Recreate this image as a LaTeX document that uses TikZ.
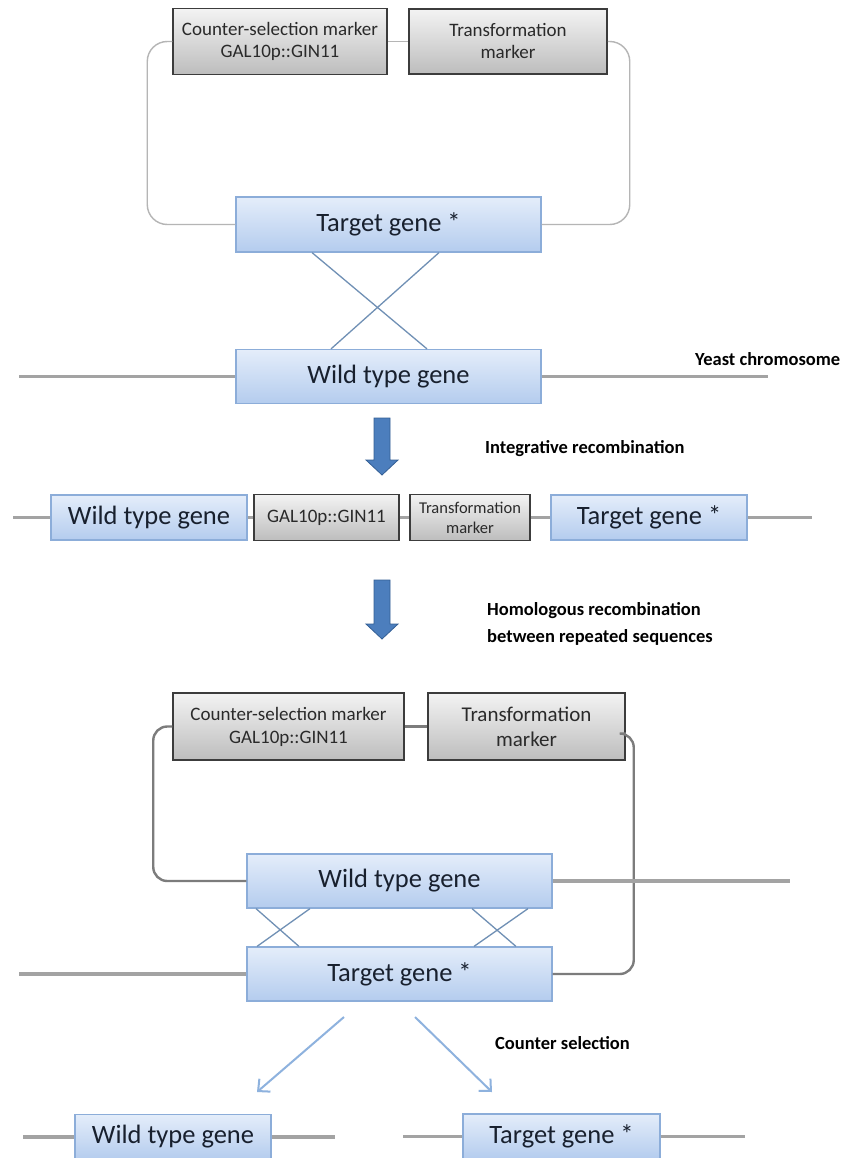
\documentclass[tikz,border=0pt]{standalone}
\usepackage{fontspec}
\setmainfont{Carlito}
\usetikzlibrary{arrows.meta}
\definecolor{genetop}{HTML}{E4EDFA}
\definecolor{genebot}{HTML}{B4CCEE}
\definecolor{geneborder}{HTML}{8CADD9}
\definecolor{genetext}{HTML}{18202E}
\definecolor{marktop}{HTML}{F3F3F3}
\definecolor{markbot}{HTML}{BDBDBD}
\definecolor{markborder}{HTML}{3C3C3C}
\definecolor{marktext}{HTML}{2A2A2A}
\definecolor{chromgray}{HTML}{A3A3A3}
\definecolor{loopgray}{HTML}{B5B5B5}
\definecolor{loopdark}{HTML}{7C7C7C}
\definecolor{xovercol}{HTML}{7090B5}
\definecolor{arrowblue}{HTML}{4C7EBD}
\definecolor{arrowedge}{HTML}{345F95}
\definecolor{selblue}{HTML}{8EB2DE}
\tikzset{
  gene/.style={draw=geneborder, line width=1.2pt, top color=genetop, bottom color=genebot,
    text=genetext, font=\fontsize{26.5}{30}\selectfont, inner sep=0pt},
  marker/.style={draw=markborder, line width=1.5pt, top color=marktop, bottom color=markbot,
    text=marktext, align=center, inner sep=0pt},
  chrom/.style={draw=chromgray, line width=3.5pt},
  loopA/.style={draw=loopgray, line width=1.4pt, rounded corners=20pt},
  loopB/.style={draw=loopdark, line width=2.4pt, rounded corners=14pt},
  xover/.style={draw=xovercol, line width=1.3pt},
  bigarrow/.style={fill=arrowblue, draw=arrowedge, line width=0.8pt},
  selarrow/.style={draw=selblue, line width=2pt, -{Straight Barb[length=9pt,width=17pt]}},
  lbl/.style={font=\bfseries\fontsize{18.5}{27}\selectfont, text=black, inner sep=0pt, anchor=base west},
}
\begin{document}
\begin{tikzpicture}[x=1pt,y=-1pt]
\fill[white] (0,0) rectangle (843,1158);
\useasboundingbox (0,0) rectangle (843,1158);

% ---------- top: plasmid and chromosome ----------
\node[marker, minimum width=214pt, minimum height=66pt, font=\fontsize{19}{21.5}\selectfont] (cs1) at (280,41.5) {Counter-selection marker\\GAL10p::GIN11};
\node[marker, minimum width=198pt, minimum height=65pt, font=\fontsize{19}{22}\selectfont] (tm1) at (508,41.5) {Transformation\\marker};
\node[gene, minimum width=305pt, minimum height=55pt] (tg1) at (388.5,224.5) {Target gene *};
\node[gene, minimum width=305pt, minimum height=54pt] (wt1) at (388.5,376.5) {Wild type gene};

\draw[loopA] (cs1.west) -- ++(-25,0) |- (tg1.west);
\draw[loopA] (tm1.east) -- ++(22,0) |- (tg1.east);
\draw[loopA, rounded corners=0pt] (cs1.east) -- (tm1.west);

\draw[xover] ([xshift=-76.5pt]tg1.south) -- ([xshift=38.5pt]wt1.north);
\draw[xover] ([xshift=50.5pt]tg1.south) -- ([xshift=-57.5pt]wt1.north);

\coordinate (c1L) at (19,376.5);
\coordinate (c1R) at (768,376.5);
\draw[chrom] (c1L) -- (wt1.west);
\draw[chrom] (wt1.east) -- (c1R);
\node[lbl] (yeast) at (695,365) {Yeast chromosome};

% arrow 1
\coordinate (a1s) at (382,418);
\coordinate (a1e) at (382,475);
\filldraw[bigarrow] ([xshift=-8pt]a1s) -- ([xshift=8pt]a1s) -- ([xshift=8pt,yshift=15pt]a1e)
  -- ([xshift=16pt,yshift=15pt]a1e) -- (a1e) -- ([xshift=-16pt,yshift=15pt]a1e)
  -- ([xshift=-8pt,yshift=15pt]a1e) -- cycle;
\node[lbl] (integ) at (485,453) {Integrative recombination};

% ---------- middle row ----------
\node[gene, minimum width=196pt, minimum height=45pt] (wt2) at (149,517.5) {Wild type gene};
\node[marker, minimum width=145pt, minimum height=46pt, font=\fontsize{19}{21}\selectfont] (gal2) at (326.5,517.5) {GAL10p::GIN11};
\node[marker, minimum width=120pt, minimum height=46pt, font=\fontsize{16.5}{20}\selectfont] (tm2) at (470,517.5) {Transformation\\marker};
\node[gene, minimum width=196pt, minimum height=45pt] (tg2) at (649,517.5) {Target gene *};
\coordinate (c2L) at (13,517.5);
\coordinate (c2R) at (812,517.5);
\draw[chrom] (c2L) -- (wt2.west);
\draw[chrom] (wt2.east) -- (gal2.west);
\draw[chrom] (gal2.east) -- (tm2.west);
\draw[chrom] (tm2.east) -- (tg2.west);
\draw[chrom] (tg2.east) -- (c2R);

% arrow 2
\coordinate (a2s) at (382,580);
\coordinate (a2e) at (382,639);
\filldraw[bigarrow] ([xshift=-8pt]a2s) -- ([xshift=8pt]a2s) -- ([xshift=8pt,yshift=15pt]a2e)
  -- ([xshift=16pt,yshift=15pt]a2e) -- (a2e) -- ([xshift=-16pt,yshift=15pt]a2e)
  -- ([xshift=-8pt,yshift=15pt]a2e) -- cycle;
\node[lbl] (hom1) at (487,615) {Homologous recombination};
\node[lbl] (hom2) at (487,642) {between repeated sequences};

% ---------- bottom: excision ----------
\node[marker, minimum width=231pt, minimum height=67pt, font=\fontsize{19}{23}\selectfont] (cs3) at (288.5,726.5) {Counter-selection marker\\GAL10p::GIN11};
\node[marker, minimum width=197pt, minimum height=67pt, font=\fontsize{21}{25}\selectfont] (tm3) at (526.5,726.5) {Transformation\\marker};
\node[gene, minimum width=305pt, minimum height=54pt] (wt3) at (399.5,881) {Wild type gene};
\node[gene, minimum width=305pt, minimum height=54pt] (tg3) at (399.5,974) {Target gene *};

\draw[loopB] (cs3.west) -- ++(-19,0) |- (wt3.west);
\draw[loopB] ([yshift=-7pt]tm3.east) -- ++(8,0) |- (tg3.east);
\draw[loopB, rounded corners=0pt] (cs3.east) -- (tm3.west);

\coordinate (c3R) at (790,881);
\coordinate (c4L) at (19,974);
\draw[chrom] (wt3.east) -- (c3R);
\draw[chrom] (c4L) -- (tg3.west);

\draw[xover] ([xshift=-143.5pt]wt3.south) -- ([xshift=-100.5pt]tg3.north);
\draw[xover] ([xshift=-89.5pt]wt3.south) -- ([xshift=-142.5pt]tg3.north);
\draw[xover] ([xshift=72.5pt]wt3.south) -- ([xshift=116.5pt]tg3.north);
\draw[xover] ([xshift=128.5pt]wt3.south) -- ([xshift=74.5pt]tg3.north);

% counter selection
\coordinate (s1a) at (344,1017);
\coordinate (s1b) at (257,1092);
\coordinate (s2a) at (415,1017);
\coordinate (s2b) at (492,1092);
\draw[selarrow] (s1a) -- (s1b);
\draw[selarrow] (s2a) -- (s2b);
\node[lbl] (csel) at (495,1049) {Counter selection};

% bottom row
\node[gene, minimum width=196pt, minimum height=45pt] (wt4) at (173,1137) {Wild type gene};
\node[gene, minimum width=197pt, minimum height=45pt] (tg4) at (561.5,1136.5) {Target gene *};
\coordinate (c5L) at (23,1137);
\coordinate (c5R) at (335,1137);
\coordinate (c6L) at (403,1136.5);
\coordinate (c6R) at (745,1136.5);
\draw[chrom] (c5L) -- (wt4.west);
\draw[chrom] (wt4.east) -- (c5R);
\draw[chrom] (c6L) -- (tg4.west);
\draw[chrom] (tg4.east) -- (c6R);
\end{tikzpicture}
\end{document}
